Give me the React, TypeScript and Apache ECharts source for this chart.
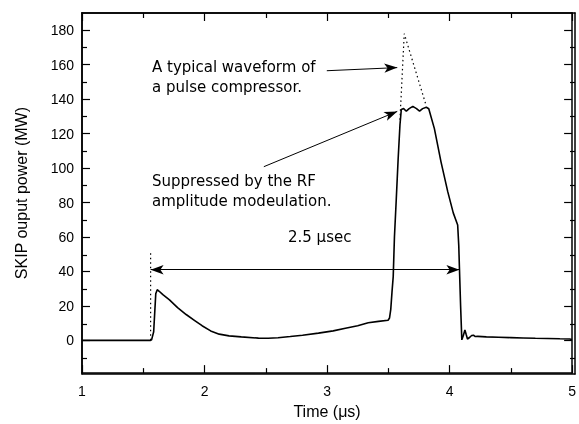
import React, { useEffect, useRef } from "react";
import * as echarts from "echarts";

// Measured SKIP output power (solid curve): [time µs, MW]
const measured: [number, number][] = [
  [1, 0], [1.56, 0], [1.568, 0.3], [1.585, 5], [1.595, 18], [1.602, 27], [1.614, 29.4],
  [1.63, 28.5], [1.66, 26.5], [1.714, 23.5], [1.78, 19], [1.85, 15], [1.92, 11.5],
  [1.98, 8.5], [2.05, 5.5], [2.12, 3.6], [2.2, 2.6], [2.3, 2], [2.44, 1.3], [2.52, 1.2],
  [2.6, 1.5], [2.7, 2.2], [2.8, 3], [2.93, 4.2], [3.05, 5.5], [3.15, 7], [3.25, 8.5],
  [3.336, 10.2], [3.42, 11], [3.498, 11.7], [3.51, 13], [3.52, 18], [3.53, 28],
  [3.54, 37], [3.55, 60], [3.565, 82], [3.58, 105], [3.595, 125], [3.606, 134],
  [3.625, 134.5], [3.647, 133], [3.67, 134.5], [3.7, 135.8], [3.73, 134.5], [3.755, 133],
  [3.78, 134.5], [3.81, 135.3], [3.83, 134.4], [3.876, 122.9], [3.93, 103.6],
  [3.985, 86.3], [4.03, 74], [4.066, 67], [4.075, 55], [4.08, 43], [4.09, 20],
  [4.1, 0.3], [4.113, 3], [4.125, 6], [4.135, 3.5], [4.146, 0.8], [4.165, 1.8],
  [4.18, 2.8], [4.195, 3], [4.21, 2.2], [4.23, 2.3], [4.3, 2], [4.4, 1.8], [4.5, 1.6],
  [4.6, 1.4], [4.7, 1.2], [4.8, 1.1], [4.9, 0.9], [4.98, 0.8], [5, 0.5],
];

// Typical pulse compressor waveform peak (dotted)
const compressor: [number, number][] = [[3.595, 128], [3.63, 178], [3.81, 136]];

// Pulse start marker (dotted vertical)
const startMarker: [number, number][] = [[1.56, 0], [1.56, 52]];

// Annotation arrows in data coordinates
const widthArrow: [number, number][] = [[1.56, 41], [4.08, 41]];
const compressorArrow: [number, number][] = [[2.998, 156.5], [3.573, 158.3]];
const suppressedArrow: [number, number][] = [[2.484, 100.8], [3.573, 132.9]];

const yMajor = [0, 20, 40, 60, 80, 100, 120, 140, 160, 180];
const yMinor = [-10, 10, 30, 50, 70, 90, 110, 130, 150, 170];

const FONT = "'Liberation Sans', Arial, sans-serif";
const NOTE_FONT = "'DejaVu Sans', sans-serif";

export default function App() {
  const ref = useRef<HTMLDivElement>(null);
  useEffect(() => {
    if (!ref.current) return;
    const chart = echarts.init(ref.current, undefined, { renderer: "svg" });
    const axisLine = { show: true, onZero: false, lineStyle: { color: "#000", width: 1.5 } };
    const tickStyle = { color: "#000", width: 1.2 };
    const yAx = (gridIndex: number, position: "left" | "right", ticks: number[], len: number, extra: any = {}) => ({
      type: "value" as const,
      gridIndex,
      position,
      min: -19,
      max: 190,
      axisLine,
      splitLine: { show: false },
      axisTick: { show: true, inside: true, length: len, customValues: ticks, lineStyle: tickStyle },
      axisLabel: { show: false },
      ...extra,
    });
    const xAx = (gridIndex: number, position: "bottom" | "top", showTicks: boolean, extra: any = {}) => ({
      type: "value" as const,
      gridIndex,
      position,
      min: 1,
      max: 5,
      interval: 1,
      axisLine,
      splitLine: { show: false },
      axisTick: { show: showTicks, inside: true, length: 8, lineStyle: tickStyle },
      minorTick: { show: showTicks, splitNumber: 2, length: 5, lineStyle: tickStyle },
      axisLabel: { show: false },
      ...extra,
    });
    const arrowLine = (coords: [number, number][], both: boolean) => ({
      silent: true,
      symbol: both ? ["arrow", "arrow"] : ["none", "arrow"],
      symbolSize: [7, 13],
      label: { show: false },
      lineStyle: { color: "#000", width: 1, type: "solid" as const },
      data: [[{ coord: coords[0] }, { coord: coords[1] }]],
    });
    const note = (text: string, left: number, top: number) => ({
      type: "text",
      left,
      top,
      style: { text, fontSize: 15, fontFamily: NOTE_FONT, fill: "#000" },
    });
    const gridPos = { left: 82, right: 4, top: 13, bottom: 50, containLabel: false };
    chart.setOption({
      animation: false,
      grid: [gridPos, gridPos],
      xAxis: [
        xAx(0, "bottom", true, {
          axisLabel: { show: true, color: "#000", fontSize: 14, fontFamily: FONT, margin: 11 },
          name: "Time (\u03bcs)",
          nameLocation: "middle",
          nameGap: 29,
          nameTextStyle: { color: "#000", fontSize: 16, fontFamily: FONT },
        }),
        xAx(0, "top", true),
        xAx(1, "bottom", false),
        xAx(1, "top", false),
      ],
      yAxis: [
        yAx(0, "left", yMajor, 8, {
          name: "SKIP ouput power (MW)",
          nameLocation: "middle",
          nameGap: 53,
          nameTextStyle: { color: "#000", fontSize: 16, fontFamily: FONT },
          axisLabel: {
            show: true, customValues: yMajor, color: "#000", fontSize: 14,
            fontFamily: FONT, margin: 8,
          },
        }),
        yAx(0, "right", yMajor, 8),
        yAx(1, "left", yMinor, 5),
        yAx(1, "right", yMinor, 5),
      ],
      series: [
        {
          type: "line",
          xAxisIndex: 0,
          yAxisIndex: 0,
          data: measured,
          showSymbol: false,
          symbol: "none",
          lineStyle: { color: "#000", width: 1.6 },
          markLine: arrowLine(widthArrow, true),
        },
        {
          type: "line",
          xAxisIndex: 0,
          yAxisIndex: 0,
          data: compressor,
          symbol: "none",
          lineStyle: { color: "#000", width: 1.2, type: [1.5, 3] },
          markLine: arrowLine(compressorArrow, false),
        },
        {
          type: "line",
          xAxisIndex: 0,
          yAxisIndex: 0,
          data: startMarker,
          symbol: "none",
          lineStyle: { color: "#000", width: 1.2, type: [1.5, 3] },
          markLine: arrowLine(suppressedArrow, false),
        },
      ],
      graphic: [
        note("A typical waveform of", 152, 59),
        note("a pulse compressor.", 152, 79),
        note("Suppressed by the RF", 152, 173),
        note("amplitude modeulation.", 152, 193),
        note("2.5 \u03bcsec", 288, 229),
      ],
    });
    return () => chart.dispose();
  }, []);
  return <div ref={ref} style={{ position: "fixed", left: 0, top: 0, width: 579, height: 424 }} />;
}
